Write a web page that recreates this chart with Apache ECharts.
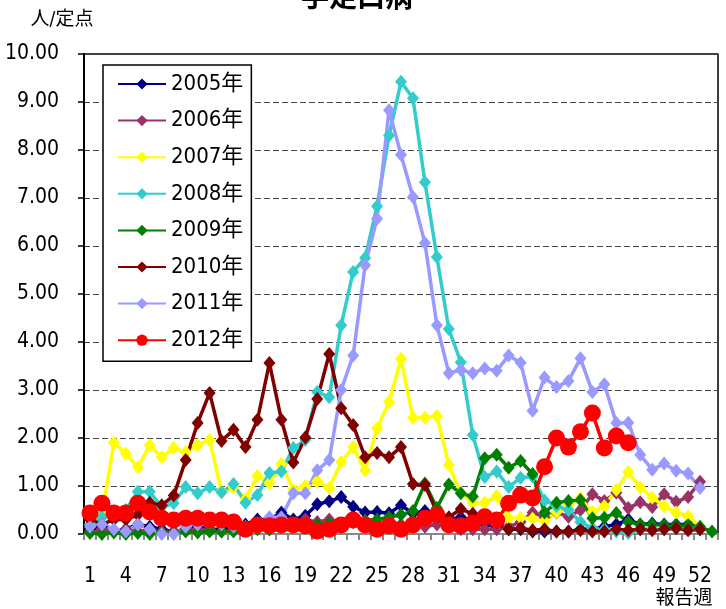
<!DOCTYPE html>
<html lang="ja">
<head>
    <meta charset="UTF-8">
    <script src="https://cdn.jsdelivr.net/npm/echarts@6.0.0/dist/echarts.min.js"></script>
    <title>手足口病</title>
    <style>
        html, body {
            margin: 0;
            padding: 0;
            background: #fff;
        }
        #chart {
            width: 726px;
            height: 609px;
        }
    </style>
</head>
<body>
    <div id="chart"></div>
    <script>
        // 報告週 1〜53
        let weeks = []
        for (let i = 1; i <= 53; i++) weeks.push(String(i))

        let years = ['2005年', '2006年', '2007年', '2008年', '2009年', '2010年', '2011年', '2012年']

        // 定点当たり報告数
        let y2005 = [0.1, 0.15, 0.05, 0.1, 0.2, 0.15, 0.1, 0.05, 0.1, 0.15, 0.1, 0.1, 0.15, 0.2,
            0.3, 0.3, 0.45, 0.3, 0.38, 0.62, 0.68, 0.77, 0.57, 0.45, 0.46, 0.43, 0.6, 0.43, 0.48, 0.4,
            0.3, 0.35, 0.25, 0.2, 0.15, 0.1, 0.1, 0.05, 0.05, 0.05, 0.05, 0.1, 0.1, 0.15, 0.2,
            0.3, 0.2, 0.22, 0.2, 0.2, 0.2, 0.1]
        let y2006 = [0.05, 0.1, 0.05, 0.1, 0.05, 0.1, 0.05, 0.05, 0.1, 0.1, 0.1, 0.05, 0.1, 0.1, 0.15, 0.1, 0.15, 0.2,
            0.3, 0.25, 0.3, 0.2, 0.25, 0.2, 0.2, 0.25, 0.2, 0.2, 0.15, 0.2, 0.15, 0.1, 0.1, 0.1, 0.1,
            0.15, 0.25, 0.45, 0.35, 0.45, 0.36, 0.5,
            0.83, 0.69, 0.86, 0.54, 0.66, 0.56, 0.83, 0.67, 0.77, 1.09]
        let y2007 = [0.2, 0.4, 1.9, 1.67, 1.39, 1.85, 1.6, 1.79, 1.71, 1.85, 1.96, 0.88, 0.98, 0.73, 1.21, 1.06, 1.46,
            0.92, 1.0, 1.1, 0.96, 1.5, 1.81, 1.33, 2.2, 2.75, 3.65, 2.42, 2.42, 2.46, 1.44, 0.85, 0.65, 0.65, 0.79,
            0.33, 0.34, 0.32, 0.27, 0.46, 0.6, 0.74, 0.46, 0.58, 0.92, 1.29, 0.97, 0.76, 0.58, 0.45, 0.37, 0.15]
        let y2008 = [0.2, 0.35, 0.35, 0.5, 0.88, 0.88, 0.56, 0.64, 0.98, 0.85, 0.98, 0.87, 1.04, 0.65, 0.81, 1.27, 1.3,
            1.79, 1.96, 2.96, 2.85, 4.35, 5.46, 5.75, 6.83, 8.3, 9.42, 9.08, 7.33, 5.77, 4.27, 3.58, 2.06, 1.19,
            1.3, 0.98, 1.17, 1.2, 0.7, 0.58, 0.5, 0.25, 0.12, 0.1, 0.05, 0.02, 0.1, 0.1, 0.1, 0.12, 0.1, 0.1]
        let y2009 = [0.02, 0.0, 0.03, 0.0, 0.02, 0.0, 0.03, 0.02, 0.05, 0.03, 0.05, 0.05, 0.05, 0.1, 0.1,
            0.1, 0.15, 0.15, 0.2, 0.2, 0.22, 0.2, 0.25, 0.28, 0.3, 0.35,
            0.4, 0.48, 1.05, 0.54, 1.03, 0.85, 0.78, 1.58, 1.65, 1.38, 1.52, 1.25,
            0.45, 0.65, 0.69, 0.71, 0.33, 0.34, 0.44, 0.25, 0.2, 0.2, 0.19, 0.18, 0.18, 0.15, 0.05]
        let y2010 = [0.3, 0.2, 0.3, 0.3, 0.4, 0.65, 0.6, 0.8, 1.54, 2.31, 2.94, 1.94, 2.17, 1.81, 2.38, 3.56, 2.38,
            1.49, 2.01, 2.81, 3.75, 2.62, 2.27, 1.6, 1.69, 1.6, 1.81, 1.04, 1.02, 0.45, 0.35, 0.52, 0.42, 0.35, 0.25,
            0.1, 0.12, 0.08, 0.1, 0.05, 0.05, 0.08, 0.05, 0.05, 0.1, 0.08, 0.1, 0.08, 0.1, 0.12, 0.08, 0.1]
        let y2011 = [0.15, 0.2, 0.1, 0.05, 0.2, 0.1, 0.0, 0.0, 0.15, 0.2, 0.25, 0.2, 0.15, 0.15, 0.2, 0.35, 0.35,
            0.85, 0.85, 1.33, 1.54, 3.0, 3.72, 5.6, 6.57, 8.83, 7.9, 7.02, 6.06, 4.35, 3.35, 3.42, 3.35, 3.45, 3.4,
            3.72, 3.57, 2.57, 3.26, 3.06, 3.19, 3.66, 2.96, 3.12, 2.31, 2.32, 1.65, 1.34, 1.47, 1.32, 1.26, 0.96]
        let y2012 = [0.44, 0.64, 0.44, 0.44, 0.64, 0.46, 0.33, 0.29, 0.33, 0.33, 0.29, 0.29, 0.25, 0.1, 0.19, 0.17,
            0.19, 0.19, 0.17, 0.06, 0.1, 0.19, 0.29, 0.19, 0.1, 0.17, 0.1, 0.19, 0.33, 0.4, 0.19, 0.17, 0.23, 0.36,
            0.29, 0.64, 0.81, 0.75, 1.4, 2.0, 1.81, 2.13, 2.52, 1.79, 2.04, 1.9]

        let allData = [y2005, y2006, y2007, y2008, y2009, y2010, y2011, y2012]
        let colors = ['#000080', '#993366', '#ffff00', '#33cccc', '#008000', '#800000', '#9999ff', '#ff0000']

        let fontNarrow = "'Liberation Sans Narrow', 'DejaVu Sans Condensed', 'Noto Sans CJK JP', sans-serif"
        let fontJp = "'Noto Sans CJK JP', sans-serif"

        let myChart = echarts.init(document.getElementById('chart'), null, { renderer: 'canvas' })

        let option = {
            animation: false,
            backgroundColor: '#fff',
            color: colors,
            grid: {
                left: 84,
                right: 8,
                top: 54,
                bottom: 75,
                show: true,
                borderColor: '#000',
                borderWidth: 1.5,
                backgroundColor: '#fff'
            },
            legend: {
                orient: 'vertical',
                left: 103,
                top: 65,
                data: years,
                backgroundColor: '#fff',
                borderColor: '#000',
                borderWidth: 1.5,
                borderRadius: 0,
                padding: [8, 8, 10, 14],
                itemWidth: 48,
                itemHeight: 14,
                itemGap: 14.6,
                textStyle: {
                    fontFamily: fontNarrow,
                    fontSize: 22,
                    lineHeight: 22,
                    color: '#000'
                }
            },
            xAxis: {
                type: 'category',
                data: weeks,
                boundaryGap: true,
                axisLine: { lineStyle: { color: '#888', width: 2 } },
                axisTick: { show: true, interval: 0, length: 6, lineStyle: { color: '#888', width: 2 } },
                axisLabel: {
                    interval: 2,
                    margin: 32,
                    fontFamily: fontNarrow,
                    fontSize: 21,
                    color: '#000'
                },
                splitLine: { show: false }
            },
            yAxis: {
                type: 'value',
                min: 0,
                max: 10,
                interval: 1,
                axisLine: { show: true, lineStyle: { color: '#000', width: 2 } },
                axisTick: { show: true, length: 6, lineStyle: { color: '#000', width: 1.5 } },
                axisLabel: {
                    margin: 25,
                    fontFamily: fontNarrow,
                    fontSize: 21,
                    color: '#000',
                    formatter: v => v.toFixed(2)
                },
                splitLine: { lineStyle: { color: '#444', type: [6, 3], width: 1 } }
            },
            graphic: [
                {
                    type: 'text', x: 357, y: -4,
                    style: { text: '手足口病', font: 'bold 28px ' + fontJp, fill: '#000', textAlign: 'center', textVerticalAlign: 'middle' }
                },
                {
                    type: 'text', x: 62, y: 20,
                    style: { text: '人/定点', font: '19px ' + fontNarrow, fill: '#000', textAlign: 'center', textVerticalAlign: 'middle' }
                },
                {
                    type: 'text', x: 684, y: 597,
                    style: { text: '報告週', font: '19px ' + fontJp, fill: '#000', textAlign: 'center', textVerticalAlign: 'middle' }
                }
            ],
            series: years.map((name, i) => ({
                name: name,
                type: 'line',
                data: allData[i],
                symbol: i === 7 ? 'circle' : 'diamond',
                symbolSize: i === 7 ? 17 : [12, 14],
                showSymbol: true,
                showAllSymbol: true,
                lineStyle: { width: 3.5, color: colors[i] },
                itemStyle: { color: colors[i] }
            }))
        }
        myChart.setOption(option)
    </script>
</body>
</html>
